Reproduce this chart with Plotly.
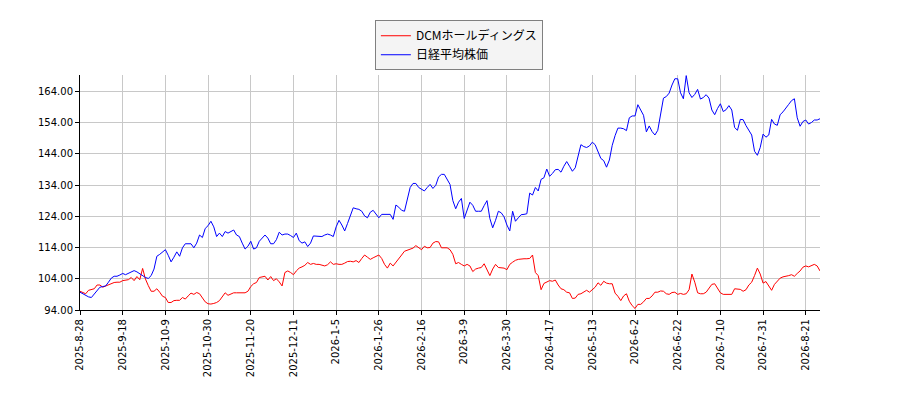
import plotly.graph_objects as go

# tick labels on the trading-day axis (one every 15 sessions)
date_labels = ["2025-8-28", "2025-9-18", "2025-10-9", "2025-10-30", "2025-11-20",
               "2025-12-11", "2026-1-5", "2026-1-26", "2026-2-16", "2026-3-9",
               "2026-3-30", "2026-4-17", "2026-5-13", "2026-6-2", "2026-6-22",
               "2026-7-10", "2026-7-31", "2026-8-21"]
tick_step = 15

# relative prices (start = 100)
dcm = [
    100.0, 99.5, 99.2, 100.3, 100.5, 100.8, 102.0, 102.0, 101.3, 101.7,
    102.0, 102.6, 102.8, 102.9, 102.9, 103.4, 103.5, 103.7, 104.4, 103.4,
    104.7, 103.7, 107.3, 103.9, 101.8, 100.0, 100.0, 100.8, 99.7, 98.4,
    98.0, 96.4, 96.4, 97.0, 97.1, 97.1, 98.0, 97.5, 98.5, 99.4,
    99.0, 99.6, 99.2, 98.0, 96.6, 96.0, 95.9, 96.1, 96.4, 97.0,
    98.4, 99.5, 98.7, 99.0, 99.5, 99.5, 99.5, 99.4, 99.5, 100.0,
    101.5, 102.4, 102.8, 104.4, 104.7, 104.8, 103.6, 104.7, 103.4, 104.0,
    103.0, 101.7, 106.0, 106.5, 106.0, 105.3, 106.5, 107.4, 107.8, 108.3,
    109.2, 108.6, 108.9, 108.6, 108.6, 108.4, 108.1, 108.5, 109.4, 108.6,
    108.8, 108.6, 108.6, 109.0, 109.5, 109.6, 109.4, 109.8, 109.2, 110.5,
    111.6, 110.9, 110.2, 110.7, 111.2, 111.6, 110.5, 108.6, 107.4, 109.0,
    108.1, 109.2, 110.2, 111.6, 112.8, 113.1, 113.3, 113.8, 114.6, 113.9,
    113.3, 114.4, 113.9, 114.0, 115.4, 115.9, 115.8, 113.9, 114.0, 113.9,
    113.3, 111.8, 108.8, 109.2, 108.6, 108.1, 108.6, 108.1, 106.3, 107.1,
    107.4, 107.6, 108.8, 106.7, 105.0, 107.1, 108.6, 107.6, 107.4, 107.4,
    106.9, 108.6, 109.3, 109.9, 110.2, 110.4, 110.4, 110.4, 110.5, 111.6,
    106.0, 105.0, 100.5, 102.5, 102.9, 103.4, 103.2, 103.6, 102.0, 100.8,
    100.5, 99.7, 99.5, 97.7, 97.8, 99.0, 99.2, 99.7, 100.3, 99.7,
    100.5, 101.3, 102.7, 101.9, 103.2, 102.6, 102.4, 102.4, 99.4, 98.4,
    97.0, 98.5, 99.2, 96.8, 95.4, 94.5, 95.8, 95.8, 96.6, 97.7,
    97.7, 98.5, 99.7, 99.7, 100.1, 100.0, 99.2, 99.0, 99.6, 99.7,
    99.0, 99.3, 99.0, 99.2, 100.5, 105.5, 102.9, 99.5, 99.2, 99.2,
    99.7, 100.8, 102.2, 102.4, 100.8, 99.5, 99.0, 99.0, 99.0, 99.0,
    100.8, 100.8, 100.6, 100.0, 100.5, 102.0, 102.9, 105.0, 107.4, 105.5,
    102.6, 103.1, 101.5, 100.3, 102.2, 103.4, 104.2, 104.6, 104.7, 105.0,
    105.3, 104.8, 105.7, 106.5, 107.7, 108.1, 107.8, 108.3, 108.6, 108.1,
    106.5,
]

nikkei = [
    99.7, 99.2, 98.8, 98.2, 98.0, 99.2, 100.3, 101.3, 101.5, 101.7,
    102.9, 104.2, 104.8, 104.8, 105.2, 105.7, 105.3, 105.8, 106.3, 106.6,
    106.2, 105.5, 105.0, 104.4, 104.1, 105.0, 107.1, 111.2, 111.8, 112.6,
    113.3, 111.5, 109.4, 110.9, 112.6, 111.2, 113.9, 115.2, 115.2, 115.2,
    113.9, 115.4, 118.0, 117.2, 120.1, 121.0, 122.4, 120.6, 117.5, 118.6,
    117.5, 119.1, 118.6, 119.1, 119.6, 118.0, 117.5, 115.4, 113.5, 114.4,
    116.0, 113.5, 113.9, 116.0, 117.0, 118.0, 117.0, 115.2, 115.2, 116.5,
    118.9, 118.0, 118.3, 118.3, 117.8, 117.2, 118.6, 116.2, 115.4, 115.8,
    114.3, 115.4, 117.7, 117.7, 117.7, 117.5, 118.0, 118.3, 118.0, 117.5,
    120.6, 122.7, 121.2, 119.3, 121.7, 124.3, 126.7, 126.4, 126.2, 125.6,
    124.1, 123.5, 125.3, 125.9, 124.5, 123.5, 124.6, 124.6, 124.6, 124.6,
    123.0, 127.6, 126.9, 125.9, 125.6, 129.5, 133.2, 134.5, 134.5, 133.2,
    132.7, 132.1, 133.2, 134.2, 132.9, 133.9, 136.6, 137.4, 137.4, 135.8,
    134.2, 129.0, 126.4, 128.5, 129.7, 123.3, 126.2, 128.5, 127.5, 125.6,
    125.6, 125.6, 127.4, 129.0, 123.3, 120.3, 122.7, 125.6, 125.1, 123.8,
    121.2, 119.3, 125.6, 122.4, 123.5, 124.5, 124.6, 124.8, 131.4, 130.8,
    133.2, 132.1, 135.8, 136.3, 139.1, 136.8, 137.7, 138.9, 139.0, 138.1,
    140.0, 141.5, 140.0, 138.4, 139.5, 143.5, 146.9, 146.3, 146.0, 146.5,
    147.7, 146.9, 144.6, 142.5, 141.8, 139.7, 142.0, 146.7, 149.8, 152.2,
    152.2, 152.0, 151.4, 155.5, 156.1, 156.1, 159.7, 158.0, 156.3, 151.0,
    152.9, 151.1, 150.0, 151.5, 156.5, 161.8, 162.3, 163.4, 166.0, 168.0,
    168.0, 163.5, 161.6, 169.0, 163.5, 162.0, 163.0, 164.6, 161.5, 162.0,
    162.9, 161.8, 158.0, 156.5, 158.5, 160.0, 157.5, 158.1, 159.4, 158.0,
    152.4, 151.5, 155.0, 154.9, 153.0, 151.4, 150.0, 144.8, 143.5, 146.0,
    150.3, 149.3, 150.0, 155.0, 153.5, 153.1, 156.5, 157.4, 158.8, 159.8,
    161.0, 161.6, 155.5, 152.8, 154.3, 154.8, 153.5, 154.0, 154.8, 154.8,
    155.2,
]

y_ticks = [94, 104, 114, 124, 134, 144, 154, 164]

x_idx = list(range(len(dcm)))
tick_pos = [k * tick_step for k in range(len(date_labels))]

fig = go.Figure()
fig.add_trace(go.Scatter(x=x_idx, y=dcm, mode="lines", name="DCMホールディングス",
                         line=dict(color="#ff0000", width=1)))
fig.add_trace(go.Scatter(x=x_idx, y=nikkei, mode="lines", name="日経平均株価",
                         line=dict(color="#0000ff", width=1)))

# the page body adds 8px, so margins are trimmed to land the axes where the original has them
fig.update_layout(
    width=900, height=400,
    margin=dict(l=72, r=88, t=62, b=98),
    paper_bgcolor="white", plot_bgcolor="white",
    font=dict(family="DejaVu Sans, Noto Sans CJK JP", size=10, color="black"),
    showlegend=True,
    legend=dict(x=0.512, y=1.233, xanchor="center", yanchor="top",
                bgcolor="#f4f4f4", bordercolor="#808080", borderwidth=1,
                font=dict(family="Noto Sans CJK JP", size=12, color="black"),
                itemwidth=30, tracegroupgap=0),
)
fig.update_xaxes(
    range=[0, len(dcm) - 1], tickmode="array", tickvals=tick_pos, ticktext=date_labels,
    tickangle=-90, showgrid=True, gridcolor="#c8c8c8", gridwidth=1,
    showline=True, linecolor="black", linewidth=1,
    ticks="outside", ticklen=4, tickcolor="black", zeroline=False,
)
fig.update_yaxes(
    range=[94, 169.2], tickmode="array", tickvals=y_ticks,
    ticktext=[f"{v:.2f}" for v in y_ticks],
    showgrid=True, gridcolor="#c8c8c8", gridwidth=1,
    showline=True, linecolor="black", linewidth=1,
    ticks="outside", ticklen=4, tickcolor="black", zeroline=False,
)

fig.write_html("out.html")
